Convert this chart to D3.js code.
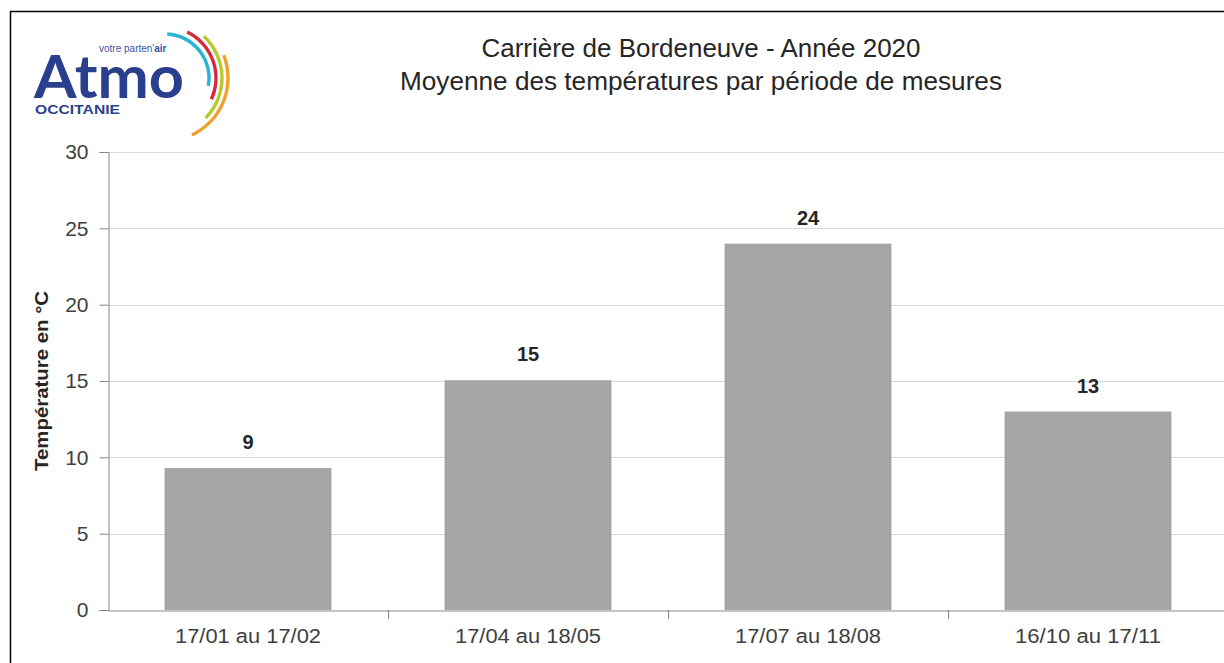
<!DOCTYPE html>
<html>
<head>
<meta charset="utf-8">
<script src="https://cdn.jsdelivr.net/npm/d3@7"></script>
<style>
  body { margin: 0; background: #fff; }
  svg { display: block; font-family: "Liberation Sans", Arial, sans-serif; }
</style>
</head>
<body>
<div id="chart"></div>
<script>
// data
const periods = ["17/01 au 17/02", "17/04 au 18/05", "17/07 au 18/08", "16/10 au 17/11"];
const temps = [9.3, 15.05, 24, 13];
const valueLabels = ["9", "15", "24", "13"];
const yTicks = [0, 5, 10, 15, 20, 25, 30];

const width = 1224, height = 663;
const plotLeft = 108, plotRight = 1228, plotTop = 152, plotBottom = 610;

const svg = d3.select("#chart").append("svg")
  .attr("width", width).attr("height", height);

// frame
svg.append("line").attr("x1", 10).attr("x2", width).attr("y1", 11.5).attr("y2", 11.5)
  .attr("stroke", "#000").attr("stroke-width", 1.5);
svg.append("line").attr("x1", 10.5).attr("x2", 10.5).attr("y1", 11).attr("y2", height)
  .attr("stroke", "#000").attr("stroke-width", 1.5);

const x = d3.scaleBand().domain(periods).range([plotLeft, plotRight]).paddingInner(0.404).paddingOuter(0.202);
const y = d3.scaleLinear().domain([0, 30]).range([plotBottom, plotTop]);

// gridlines
svg.append("g").selectAll("line").data(yTicks.filter(d => d > 0)).enter()
  .append("line")
  .attr("x1", plotLeft).attr("x2", width)
  .attr("y1", d => Math.round(y(d)) + 0.5).attr("y2", d => Math.round(y(d)) + 0.5)
  .attr("stroke", "#d9d9d9");

// bars
svg.append("g").selectAll("rect").data(temps).enter()
  .append("rect")
  .attr("x", (d, i) => x(periods[i]))
  .attr("width", x.bandwidth())
  .attr("y", d => y(d))
  .attr("height", d => y(0) - y(d))
  .attr("fill", "#a5a5a5");

// value labels
svg.append("g").selectAll("text").data(temps).enter()
  .append("text")
  .attr("x", (d, i) => x(periods[i]) + x.bandwidth() / 2)
  .attr("y", d => y(d) - 19)
  .attr("text-anchor", "middle")
  .attr("font-size", 20).attr("font-weight", "bold").attr("fill", "#262626")
  .text((d, i) => valueLabels[i]);

// y axis
const yAxis = svg.append("g")
  .attr("transform", "translate(" + (plotLeft + 0.5) + ",0)")
  .call(d3.axisLeft(y).tickValues(yTicks).tickSize(9).tickPadding(11));
yAxis.select(".domain").attr("stroke", "#868686");
yAxis.selectAll(".tick line").attr("stroke", "#868686");
yAxis.selectAll(".tick text").attr("font-size", 21).attr("fill", "#404040")
  .attr("font-family", "Liberation Sans, Arial, sans-serif");

// x axis
const xAxis = svg.append("g")
  .attr("transform", "translate(0," + (plotBottom + 0.5) + ")")
  .call(d3.axisBottom(x).tickSize(0).tickPadding(18));
xAxis.select(".domain").attr("stroke", "#868686");
xAxis.selectAll(".tick text").attr("font-size", 20).attr("fill", "#404040")
  .attr("font-family", "Liberation Sans, Arial, sans-serif")
  .attr("textLength", 146).attr("lengthAdjust", "spacingAndGlyphs");
// category separators
const step = x.step();
svg.append("g").selectAll("line").data(periods.slice(1)).enter()
  .append("line")
  .attr("x1", d => Math.round(x(d) - x.paddingInner() * step / 2) + 0.5)
  .attr("x2", d => Math.round(x(d) - x.paddingInner() * step / 2) + 0.5)
  .attr("y1", plotBottom).attr("y2", plotBottom + 9)
  .attr("stroke", "#868686");

// y title
svg.append("text")
  .attr("transform", "translate(48," + ((plotTop + plotBottom) / 2) + ") rotate(-90)")
  .attr("text-anchor", "middle")
  .attr("font-size", 19).attr("font-weight", "bold").attr("fill", "#262626")
  .attr("textLength", 180).attr("lengthAdjust", "spacingAndGlyphs")
  .text("Température en °C");

// chart title
const title = svg.append("g").attr("text-anchor", "middle").attr("fill", "#262626").attr("font-size", 25);
title.append("text").attr("x", 701).attr("y", 57)
  .attr("textLength", 439).attr("lengthAdjust", "spacingAndGlyphs")
  .text("Carrière de Bordeneuve - Année 2020");
title.append("text").attr("x", 701).attr("y", 90)
  .attr("textLength", 602).attr("lengthAdjust", "spacingAndGlyphs")
  .text("Moyenne des températures par période de mesures");

// logo
const logo = svg.append("g");
logo.append("text").attr("x", 34).attr("y", 98)
  .attr("font-size", 60).attr("font-weight", "bold").attr("fill", "#2b3f8f")
  .attr("font-family", "Lato, 'Liberation Sans', sans-serif")
  .attr("textLength", 150).attr("lengthAdjust", "spacingAndGlyphs")
  .text("Atmo");
logo.append("text").attr("x", 99).attr("y", 52)
  .attr("font-size", 10).attr("fill", "#3b55a8")
  .html("votre parten'<tspan font-weight='bold'>air</tspan>");
logo.append("text").attr("x", 35).attr("y", 114)
  .attr("font-size", 13).attr("font-weight", "bold").attr("fill", "#2b3f8f")
  .attr("textLength", 85).attr("lengthAdjust", "spacingAndGlyphs")
  .text("OCCITANIE");
const arc = d3.arc();
const arcs = [
  {r: 44, a0: 0.05, a1: 1.75, c: "#2bb3d4"},
  {r: 51, a0: 0.45, a1: 2.0, c: "#d42a3c"},
  {r: 57, a0: 0.75, a1: 2.35, c: "#b7c92c"},
  {r: 63, a0: 1.2, a1: 2.7, c: "#f0a030"}
];
logo.append("g").attr("transform", "translate(165,78)")
  .selectAll("path").data(arcs).enter()
  .append("path")
  .attr("d", d => arc({innerRadius: d.r - 1.7, outerRadius: d.r + 1.7, startAngle: d.a0, endAngle: d.a1}))
  .attr("fill", d => d.c);
</script>
</body>
</html>
